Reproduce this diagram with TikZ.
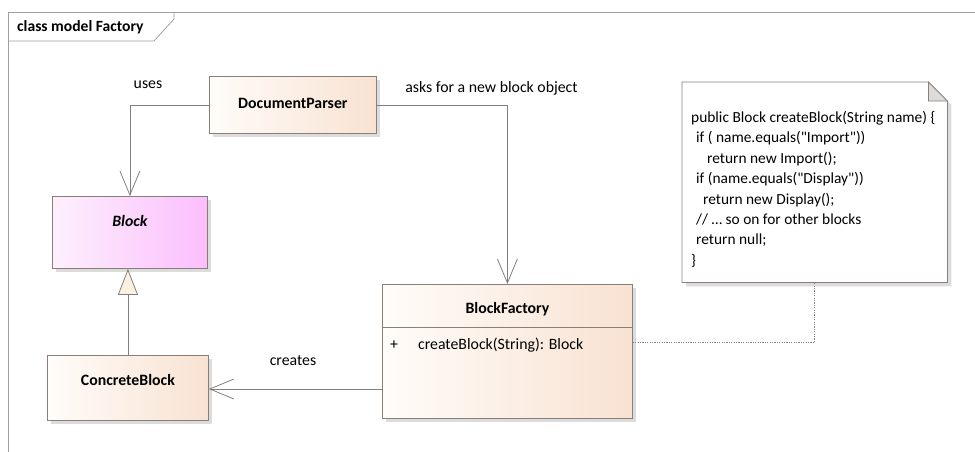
\documentclass[tikz,border=0pt]{standalone}
\usepackage{fontspec}
\setmainfont{Carlito}
\newfontfamily\codefont{Carlito}[Ligatures=TeXOff]
\usetikzlibrary{arrows.meta,shadows}
\definecolor{edgec}{HTML}{8A7F78}
\definecolor{peachL}{HTML}{FFFCF9}
\definecolor{peachR}{HTML}{F8E2D2}
\definecolor{pinkL}{HTML}{FDF0FD}
\definecolor{pinkR}{HTML}{FBBEFD}
\definecolor{shadowc}{HTML}{DCDCDC}
\definecolor{linec}{HTML}{808080}
\definecolor{framec}{HTML}{A0A0A0}
\definecolor{trifill}{HTML}{FBF0E2}
\definecolor{foldc}{HTML}{DCDCDC}
\tikzset{
  myshadow/.style={drop shadow={shadow xshift=4pt,shadow yshift=-4pt,fill=shadowc,opacity=1,draw=none}},
  classbox/.style={draw=edgec, line width=0.8pt, inner sep=0pt, anchor=north west, myshadow, left color=peachL, right color=peachR},
  abstractbox/.style={classbox, left color=pinkL, right color=pinkR},
  clsname/.style={font=\fontsize{15.8}{19}\selectfont\bfseries, inner sep=0pt},
  lbl/.style={font=\fontsize{15.8}{19}\selectfont, inner sep=0pt},
  assoc/.style={draw=linec, line width=0.8pt, -{Straight Barb[length=24pt,width=20pt,line width=0.8pt]}},
  genl/.style={draw=linec, line width=0.8pt, -{Triangle[length=26pt,width=20pt,fill=trifill,line width=0.8pt]}},
  notelink/.style={draw=linec, line width=0.7pt, dash pattern=on 1.2pt off 1.2pt},
}
\begin{document}
\begin{tikzpicture}[x=1pt,y=-1pt]
\useasboundingbox (0,0) rectangle (975,452);
% frame
\draw[framec, line width=0.8pt] (8,452) -- (8,12) -- (975,12);
\draw[framec, line width=0.8pt] (8,41) -- (154,41) -- (174,19) -- (174,12);
\node[clsname, anchor=west, font=\fontsize{15.6}{18}\selectfont\bfseries] (title) at (17,27) {class model Factory};

% classes
\node[classbox, minimum width=167pt, minimum height=57pt] (dp) at (209,76) {};
\node[clsname] (dpT) at ([yshift=-27pt]dp.north) {DocumentParser};

\node[abstractbox, minimum width=155pt, minimum height=72pt] (blk) at (52,196) {};
\node[clsname, font=\fontsize{15.8}{19}\selectfont\bfseries\itshape] (blkT) at ([yshift=-25pt]blk.north) {Block};

\node[classbox, minimum width=161pt, minimum height=65pt] (cb) at (47,355) {};
\node[clsname] (cbT) at ([yshift=-25pt]cb.north) {ConcreteBlock};

\node[classbox, minimum width=250pt, minimum height=134pt] (bf) at (382,284) {};
\node[clsname] (bfT) at ([yshift=-25pt]bf.north) {BlockFactory};
\draw[edgec, line width=0.8pt] ([yshift=-43pt]bf.north west) -- ([yshift=-43pt]bf.north east);
\node[lbl, anchor=west] (bfPlus) at ([xshift=8pt,yshift=-61pt]bf.north west) {+};
\node[lbl, anchor=west] (bfOp) at ([xshift=36pt,yshift=-61pt]bf.north west) {createBlock(String): Block};

% note
\node[minimum width=265pt, minimum height=200pt, inner sep=0pt, anchor=north west] (note) at (682,82) {};
\path[draw=edgec, fill=white, line width=0.8pt, myshadow]
  (note.north west) -- ([xshift=-19pt]note.north east) -- ([yshift=-19pt]note.north east)
  -- (note.south east) -- (note.south west) -- cycle;
\filldraw[draw=edgec, fill=foldc, line width=0.8pt]
  ([xshift=-19pt]note.north east) -- ([xshift=-19pt,yshift=-19pt]note.north east) -- ([yshift=-19pt]note.north east) -- cycle;
\node[anchor=north west, inner sep=0pt, align=left, font=\codefont\fontsize{15.4}{20.4}\selectfont] (noteT) at (691,111)
{public Block createBlock(String name) \{\\
\hspace*{5pt}if ( name.equals("Import"))\\
\hspace*{16pt}return new Import();\\
\hspace*{5pt}if (name.equals("Display"))\\
\hspace*{12pt}return new Display();\\
\hspace*{5pt}// … so on for other blocks\\
\hspace*{5pt}return null;\\
\}};

% connectors
\draw[assoc] (dp.west) -| (blk.north);
\node[lbl] (usesL) at (148,85) {uses};
\draw[assoc] (dp.east) -| (bf.north);
\node[lbl] (asksL) at (491.5,88) {asks for a new block object};
\draw[genl] (cb.north) -- (cb.north |- blk.south);
\draw[assoc] (bf.west |- 0,389) -- (cb.east |- 0,389);
\node[lbl] (createsL) at (293,361) {creates};
\draw[notelink] ([yshift=9pt]bf.east) -| (note.south);
\end{tikzpicture}
\end{document}
